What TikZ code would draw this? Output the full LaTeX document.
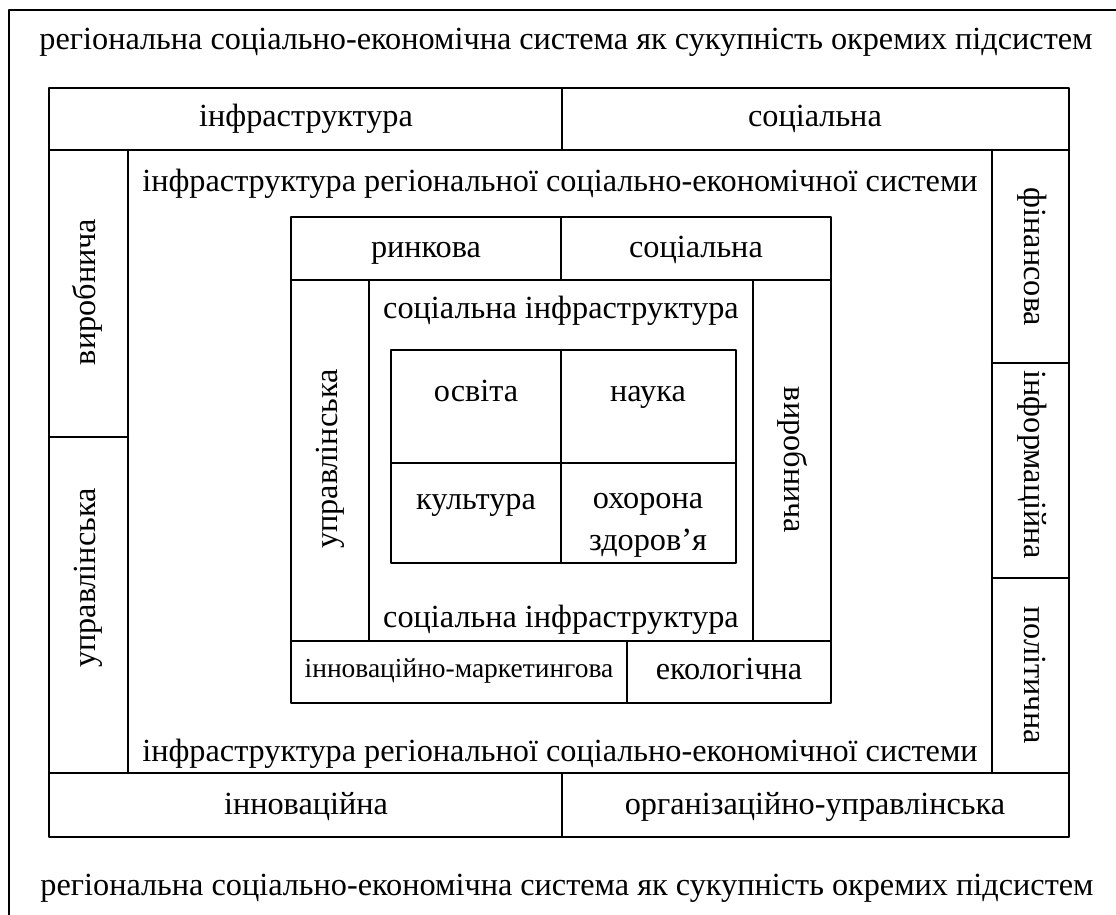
\documentclass[tikz,border=0pt]{standalone}
\usepackage{fontspec}
\setmainfont{Liberation Serif}
\usepackage{tikz}

\begin{document}
\begin{tikzpicture}[line cap=round,line join=round,x=0.375pt,y=-0.375pt,line width=0.85pt,
    txt/.style={inner sep=0pt,anchor=base,font=\fontsize{12.1}{15.75}\selectfont},
    small/.style={txt,font=\fontsize{10.3}{13}\selectfont},
    vtxt/.style={inner sep=0pt,text height=0.7em,text depth=0.252em,font=\fontsize{12.1}{15.75}\selectfont},
    up/.style={vtxt,rotate=90},
    down/.style={vtxt,rotate=-90}]
        \useasboundingbox (0,0) rectangle (1116,915);
        % outer frame
        \draw (9,915) -- (9,10) -- (1116,10);
        % middle frame
        \draw (49,88) rectangle (1069,837);
        \draw (49,150) -- (1069,150);
        \draw (49,773) -- (1069,773);
        \draw (562,88) -- (562,150);
        \draw (562,773) -- (562,837);
        \draw (128,150) -- (128,773);
        \draw (992,150) -- (992,773);
        \draw (49,437) -- (128,437);
        \draw (992,363) -- (1069,363);
        \draw (992,578) -- (1069,578);
        % inner frame
        \draw (291,217) rectangle (831,703);
        \draw (291,280) -- (831,280);
        \draw (291,641) -- (831,641);
        \draw (561,217) -- (561,280);
        \draw (627,641) -- (627,703);
        \draw (369,280) -- (369,641);
        \draw (753,280) -- (753,641);
        % grid
        \draw (391,350) rectangle (736,563);
        \draw (561,350) -- (561,563);
        \draw (391,463) -- (736,463);
        % texts
        \node[txt] (rsesTop) at (566,50) {регіональна соціально-економічна система як сукупність окремих підсистем};
        \node[txt] (rsesBot) at (567,896) {регіональна соціально-економічна система як сукупність окремих підсистем};
        \node[txt] (infra) at (306,127) {інфраструктура};
        \node[txt] (socA) at (815,127) {соціальна};
        \node[txt] (irTop) at (560,192) {інфраструктура регіональної соціально-економічної системи};
        \node[txt] (irBot) at (560,762) {інфраструктура регіональної соціально-економічної системи};
        \node[txt] (innov) at (306,815) {інноваційна};
        \node[txt] (orgUpr) at (815,815) {організаційно-управлінська};
        \node[up] (vyrA) at (90,292) {виробнича};
        \node[up] (uprA) at (90,578) {управлінська};
        \node[down] (fin) at (1030,257) {фінансова};
        \node[down] (inform) at (1030,465) {інформаційна};
        \node[down] (polit) at (1030,675) {політична};
        \node[txt] (rynk) at (426,258) {ринкова};
        \node[txt] (socB) at (696,258) {соціальна};
        \node[up] (uprB) at (332,459) {управлінська};
        \node[down] (vyrB) at (790,460) {виробнича};
        \node[small] (innMark) at (459,678) {інноваційно-маркетингова};
        \node[txt] (ekol) at (729,680) {екологічна};
        \node[txt] (siTop) at (561,319) {соціальна інфраструктура};
        \node[txt] (siBot) at (561,628) {соціальна інфраструктура};
        \node[txt] (osv) at (476,402) {освіта};
        \node[txt] (nauka) at (648,402) {наука};
        \node[txt] (kult) at (476,510) {культура};
        \node[txt,anchor=center,align=center] (ohor) at (648,525) {охорона\\здоров’я};
\end{tikzpicture}
\end{document}
